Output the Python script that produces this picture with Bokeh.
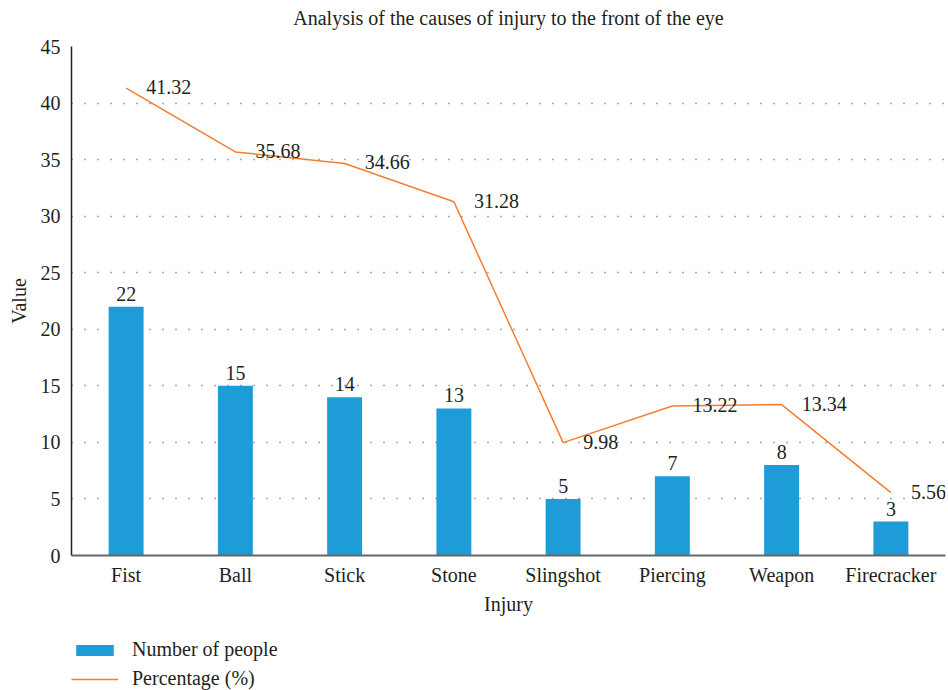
from bokeh.plotting import figure
from bokeh.models import (ColumnDataSource, FactorRange, Range1d, FixedTicker, Legend,
                          LegendItem, Label)
from bokeh.layouts import column
from bokeh.core.properties import value
from bokeh.embed import file_html
from bokeh.resources import INLINE

categories = ["Fist", "Ball", "Stick", "Stone", "Slingshot", "Piercing", "Weapon", "Firecracker"]
people = [22, 15, 14, 13, 5, 7, 8, 3]
percentage = [41.32, 35.68, 34.66, 31.28, 9.98, 13.22, 13.34, 5.56]
y_ticks = [0, 5, 10, 15, 20, 25, 30, 35, 40, 45]
title_text = "Analysis of the causes of injury to the front of the eye"
series_names = ["Number of people", "Percentage (%)"]

FONT = "Liberation Serif"
FS = "20px"
TXT = "#231f20"
BLUE = "#1e9cd7"
ORANGE = "#f47d30"

src = ColumnDataSource(dict(
    cat=categories,
    people=people,
    people_txt=[str(v) for v in people],
    pct=percentage,
    pct_txt=["%.2f" % v for v in percentage],
))

# ---- header with the title (frame aligned with the main chart's frame) ----
head = figure(width=948, height=34, output_backend="svg", toolbar_location=None,
              x_range=Range1d(0, 1), y_range=Range1d(0, 1),
              x_axis_location=None, y_axis_location=None,
              min_border=0, min_border_left=0, min_border_right=0,
              min_border_top=0, min_border_bottom=0)
head.grid.visible = False
head.outline_line_color = None
head.add_layout(Label(x=437, y=17, x_units="screen", y_units="screen", text=title_text,
                      text_align="center", text_baseline="middle", text_font=FONT,
                      text_font_size=FS, text_color=TXT))

# ---- main chart ----
p = figure(
    width=948, height=596,
    x_range=FactorRange(*categories, range_padding=0),
    y_range=Range1d(0, 45),
    output_backend="svg", toolbar_location=None,
    min_border_left=71, min_border_right=3, min_border_top=12, min_border_bottom=75,
)
p.outline_line_color = None
p.background_fill_color = "white"

bars = p.vbar(x="cat", top="people", width=0.32, source=src, fill_color=BLUE, line_color=None)
line = p.line(x="cat", y="pct", source=src, line_color=ORANGE, line_width=1.5)

p.text(x="cat", y="people", text="people_txt", source=src, text_align="center",
       text_baseline="bottom", y_offset=-6, text_font=value(FONT),
       text_font_size=FS, text_color=TXT)
p.text(x="cat", y="pct", text="pct_txt", source=src, text_align="left",
       text_baseline="middle", x_offset=20, y_offset=-1, text_font=value(FONT),
       text_font_size=FS, text_color=TXT)

p.yaxis.ticker = FixedTicker(ticks=y_ticks)
p.yaxis.axis_label = "Value"
p.xaxis.axis_label = "Injury"
for ax in (p.xaxis, p.yaxis):
    ax.major_tick_line_color = None
    ax.minor_tick_line_color = None
    ax.major_label_text_font = FONT
    ax.major_label_text_font_size = FS
    ax.major_label_text_color = TXT
    ax.axis_label_text_font = FONT
    ax.axis_label_text_font_size = FS
    ax.axis_label_text_font_style = "normal"
    ax.axis_label_text_color = TXT
p.yaxis.axis_line_color = "#222222"
p.yaxis.axis_line_width = 1.5
p.xaxis.axis_line_color = "#666666"
p.xaxis.axis_line_width = 2
p.yaxis.major_label_standoff = 5
p.xaxis.major_label_standoff = 2
p.yaxis.axis_label_standoff = 8
p.xaxis.axis_label_standoff = 4

p.xgrid.grid_line_color = None
p.ygrid.grid_line_color = "#555555"
p.ygrid.grid_line_dash = "1 12"
p.ygrid.grid_line_width = 1.5

# ---- legend strip (same series drawn off-range, only their legend glyphs show) ----
leg = figure(width=948, height=60, output_backend="svg", toolbar_location=None,
             x_range=FactorRange(*categories), y_range=Range1d(1000, 1001),
             x_axis_location=None, y_axis_location=None,
             min_border=0, min_border_left=0, min_border_right=0,
             min_border_top=0, min_border_bottom=0)
leg.grid.visible = False
leg.outline_line_color = None
leg_bar = leg.vbar(x="cat", top="people", width=0.32, source=src, fill_color=BLUE, line_color=None)
leg_line = leg.line(x="cat", y="pct", source=src, line_color=ORANGE, line_width=1.5)

legend = Legend(items=[
    LegendItem(label=series_names[0], renderers=[leg_bar]),
    LegendItem(label=series_names[1], renderers=[leg_line]),
], location=(0, 0))
legend.glyph_width = 47
legend.glyph_height = 14
legend.label_standoff = 14
legend.spacing = 6
legend.label_text_font = FONT
legend.label_text_font_size = FS
legend.label_text_color = TXT
legend.border_line_color = None
legend.background_fill_alpha = 0
legend.padding = 0
legend.margin = 0
leg.add_layout(legend, "center")

layout = column(head, p, leg, spacing=0)
open("out.html", "w").write(file_html(layout, INLINE))
